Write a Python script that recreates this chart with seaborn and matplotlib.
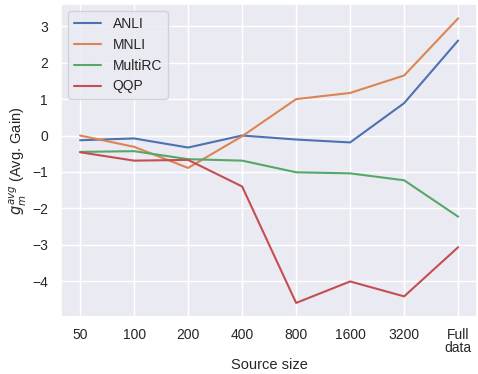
import matplotlib
matplotlib.use("Agg")
import matplotlib.pyplot as plt
import seaborn as sns
import pandas as pd

sizes = ["50", "100", "200", "400", "800", "1600", "3200", "Full\ndata"]
anli = [-0.13, -0.08, -0.33, 0.0, -0.11, -0.19, 0.89, 2.61]
mnli = [0.0, -0.31, -0.89, -0.02, 1.0, 1.17, 1.65, 3.22]
multirc = [-0.45, -0.43, -0.65, -0.69, -1.01, -1.04, -1.23, -2.23]
qqp = [-0.46, -0.69, -0.67, -1.4, -4.6, -4.01, -4.42, -3.07]

series = {"ANLI": anli, "MNLI": mnli, "MultiRC": multirc, "QQP": qqp}
rows = []
for name, vals in series.items():
    for i, v in enumerate(vals):
        rows.append({"pos": i, "gain": v, "task": name})
df = pd.DataFrame(rows)

sns.set_theme(style="darkgrid")
plt.rcParams["font.family"] = ["Liberation Sans", "DejaVu Sans"]

fig, ax = plt.subplots(figsize=(4.78, 3.74), dpi=100)
fig.subplots_adjust(left=0.128, right=0.998, top=0.989, bottom=0.152)

sns.lineplot(data=df, x="pos", y="gain", hue="task", ax=ax, linewidth=1.5)
ax.set_xticks(range(len(sizes)))
ax.set_xticklabels(sizes, fontsize=10, linespacing=0.95)
ax.tick_params(axis="x", pad=1.5)
ax.tick_params(axis="y", labelsize=10)
ax.set_xlabel("Source size", fontsize=10.5, labelpad=2)
ax.set_ylabel(r"$g_m^{avg}$ (Avg. Gain)", fontsize=10.5, labelpad=2)
ax.set_yticks([-4, -3, -2, -1, 0, 1, 2, 3])
ax.legend(title=None, loc="upper left", fontsize=10)

fig.savefig("out.png", dpi=100)
